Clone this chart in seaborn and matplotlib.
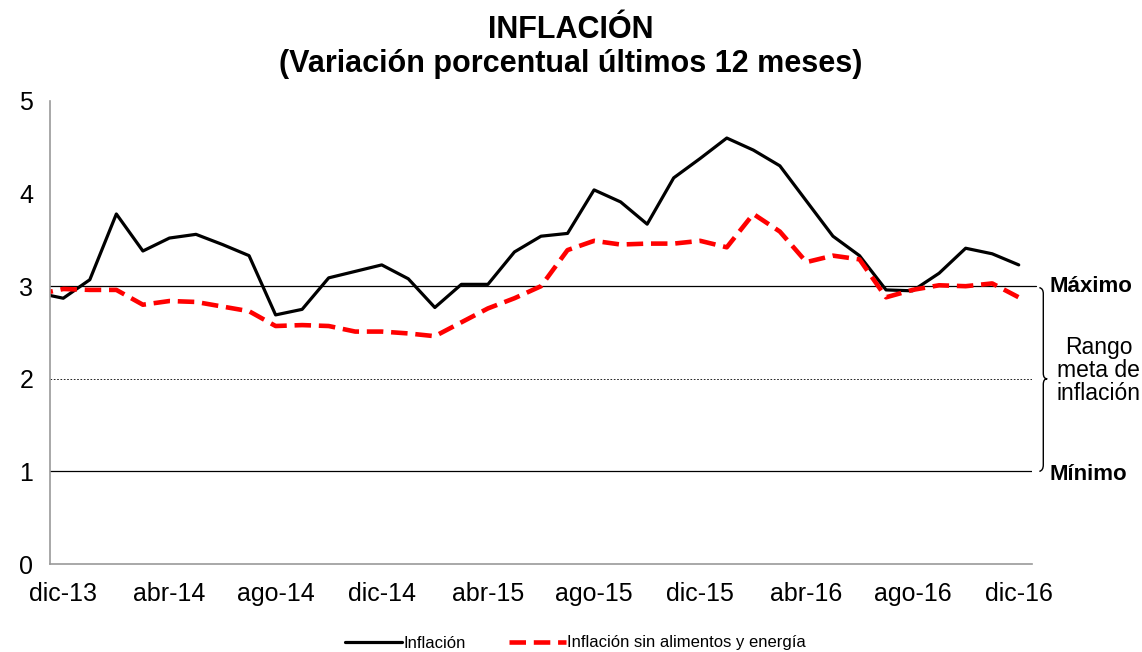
import numpy as np
import pandas as pd
import matplotlib
matplotlib.use("Agg")
import matplotlib.pyplot as plt
from matplotlib.path import Path
from matplotlib.patches import PathPatch
import matplotlib.transforms as mtransforms
import seaborn as sns

# monthly data, nov-13 .. dic-16 (nov-13 only shows as the clipped start)
inflacion = [2.93, 2.87, 3.07, 3.78, 3.38, 3.52, 3.56, 3.45, 3.33, 2.69, 2.75, 3.09,
             3.16, 3.23, 3.08, 2.77, 3.02, 3.02, 3.37, 3.54, 3.57, 4.04, 3.91, 3.67,
             4.17, 4.38, 4.60, 4.47, 4.30, 3.92, 3.54, 3.33, 2.96, 2.95, 3.14, 3.41,
             3.35, 3.23]
subyacente = [2.91, 2.97, 2.96, 2.96, 2.80, 2.84, 2.83, 2.78, 2.73, 2.57, 2.58, 2.57,
              2.51, 2.51, 2.49, 2.46, 2.61, 2.76, 2.87, 3.00, 3.39, 3.49, 3.45, 3.46,
              3.46, 3.49, 3.42, 3.78, 3.59, 3.26, 3.33, 3.29, 2.88, 2.96, 3.01, 3.00,
              3.03, 2.88]
tick_labels = ["dic-13", "abr-14", "ago-14", "dic-14", "abr-15", "ago-15",
               "dic-15", "abr-16", "ago-16", "dic-16"]
meta_max = 3
meta_centro = 2
meta_min = 1

sns.set_style("white")
plt.rcParams["font.family"] = ["Liberation Sans", "DejaVu Sans"]
plt.rcParams["text.color"] = "black"
plt.rcParams["xtick.color"] = "black"
plt.rcParams["ytick.color"] = "black"

df = pd.DataFrame({
    "mes": np.arange(-1, len(inflacion) - 1),
    "Inflación": inflacion,
    "Inflación sin alimentos y energía": subyacente,
})

fig = plt.figure(figsize=(11.42, 6.52), dpi=100)
ax = fig.add_axes([50 / 1142, 1 - 564 / 652, 982 / 1142, 463 / 652])

sns.lineplot(data=df, x="mes", y="Inflación", ax=ax, color="black", lw=2.3,
             label="Inflación")
sns.lineplot(data=df, x="mes", y="Inflación sin alimentos y energía", ax=ax,
             color="#ff0000", lw=3.3, label="Inflación sin alimentos y energía")
ax.lines[1].set_dashes([3.6, 1.7])

# target range lines
ax.axhline(meta_max, color="black", lw=0.9, xmax=1.004, clip_on=False, zorder=1)
ax.axhline(meta_centro, color="black", lw=0.6, ls=(0, (2, 2)), zorder=1)
ax.axhline(meta_min, color="black", lw=0.9, zorder=1)

ax.set_xlim(-0.5, 36.5)
ax.set_ylim(0, 5)
ax.set_xticks(np.arange(0, 37, 4))
ax.set_xticklabels(tick_labels, fontsize=18)
ax.set_yticks(range(6))
ax.set_yticklabels([str(v) for v in range(6)], fontsize=18)
ax.tick_params(axis="y", length=6, color="#a0a0a0", pad=6)
ax.tick_params(axis="x", length=0, pad=13)
ax.set_xlabel("")
ax.set_ylabel("")
for s in ["top", "right"]:
    ax.spines[s].set_visible(False)
for s in ["left", "bottom"]:
    ax.spines[s].set_color("#9a9a9a")
    ax.spines[s].set_linewidth(1.2)

# brace to the right
trans = mtransforms.blended_transform_factory(ax.transAxes, ax.transData)
x0 = 1.0115
w = 0.004
verts = [(x0 - w, 2.985), (x0, 2.975), (x0, 2.92),
         (x0, 2.06),
         (x0, 2.0), (x0 + w, 2.0),
         (x0, 2.0), (x0, 1.94),
         (x0, 1.07),
         (x0, 1.01), (x0 - w, 1.0)]
codes = [Path.MOVETO, Path.CURVE3, Path.CURVE3,
         Path.LINETO,
         Path.CURVE3, Path.CURVE3,
         Path.CURVE3, Path.CURVE3,
         Path.LINETO,
         Path.CURVE3, Path.CURVE3]
ax.add_patch(PathPatch(Path(verts, codes), transform=trans, fill=False,
                       lw=1.0, color="black", clip_on=False))

ax.text(1.018, meta_max, "Máximo", transform=trans, fontsize=16,
        fontweight="bold", va="center", ha="left")
ax.text(1.018, meta_min - 0.03, "Mínimo", transform=trans, fontsize=16,
        fontweight="bold", va="center", ha="left")
ax.text(1.068, meta_centro + 0.09, "Rango\nmeta de\ninflación", transform=trans,
        fontsize=16.5, va="center", ha="center", linespacing=1.02)

fig.text(0.5, 1 - 47 / 652, "INFLACIÓN\n(Variación porcentual últimos 12 meses)",
         ha="center", va="center", fontsize=22, fontweight="bold",
         linespacing=1.15)

ax.legend(loc="center", bbox_to_anchor=(0.504, 1 - 643 / 652), bbox_transform=fig.transFigure,
          ncol=2, frameon=False, fontsize=12, handlelength=3.4, handletextpad=0.1,
          columnspacing=2.6)

fig.savefig("out.png", dpi=100)
